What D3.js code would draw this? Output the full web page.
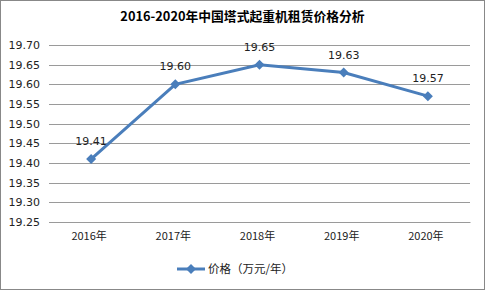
<!DOCTYPE html>
<html>
<head>
<meta charset="utf-8">
<script src="https://cdn.jsdelivr.net/npm/d3@7"></script>
<style>
  body { margin: 0; background: #fff; }
  text { font-family: "Noto Sans CJK SC", "DejaVu Sans", sans-serif; }
</style>
</head>
<body>
<div id="vis"></div>
<script>
const years = ['2016年', '2017年', '2018年', '2019年', '2020年']
const prices = [19.41, 19.60, 19.65, 19.63, 19.57]
const yTicks = [19.25, 19.30, 19.35, 19.40, 19.45, 19.50, 19.55, 19.60, 19.65, 19.70]

const W = 485, H = 290
const margin = { top: 45, right: 15, bottom: 68, left: 49 }
const width = W - margin.left - margin.right
const height = H - margin.top - margin.bottom
const lineColor = '#4a7ebb'

const root = d3.select('#vis').append('svg')
    .attr('width', W)
    .attr('height', H)

root.append('rect')
    .attr('x', 0.5).attr('y', 0.5)
    .attr('width', W - 1).attr('height', H - 1)
    .style('fill', '#fff')
    .style('stroke', '#888')

root.append('text')
    .attr('x', W / 2)
    .attr('y', 21)
    .style('text-anchor', 'middle')
    .style('font-size', '12.8px')
    .style('font-weight', 'bold')
    .text('2016-2020年中国塔式起重机租赁价格分析')

const svg = root.append('g')
    .attr('transform', `translate(${margin.left},${margin.top})`)

const xScale = d3.scaleBand().domain(years).range([0, width])
const yScale = d3.scaleLinear().domain([19.25, 19.70]).range([height, 0])

// grid
svg.append('g')
    .selectAll('line')
    .data(yTicks)
    .join('line')
    .attr('x1', 0).attr('x2', width)
    .attr('y1', d => Math.round(yScale(d)) + 0.5)
    .attr('y2', d => Math.round(yScale(d)) + 0.5)
    .style('stroke', '#9a9a9a')
    .style('stroke-width', 1)

const yAxis = d3.axisLeft(yScale).tickValues(yTicks).tickFormat(d3.format('.2f')).tickSize(0).tickPadding(9)
svg.append('g')
    .call(yAxis)
    .call(g => g.select('.domain').remove())
    .selectAll('text')
    .style('font-size', '11px')
    .style('font-family', '"DejaVu Sans", sans-serif')
    .style('fill', '#222')

const xAxis = d3.axisBottom(xScale).tickSize(0).tickPadding(10)
svg.append('g')
    .attr('transform', `translate(0,${height})`)
    .call(xAxis)
    .call(g => g.select('.domain').style('stroke', '#9a9a9a'))
    .selectAll('text')
    .attr('dx', -2)
    .style('font-size', '11px')
    .style('fill', '#222')

const cx = d => xScale(d) + xScale.bandwidth() / 2

const line = d3.line()
    .x((d, i) => cx(years[i]))
    .y(d => yScale(d))

svg.append('path')
    .datum(prices)
    .attr('d', line)
    .style('fill', 'none')
    .style('stroke', lineColor)
    .style('stroke-width', 3)

svg.selectAll('.pt')
    .data(prices)
    .join('path')
    .attr('class', 'pt')
    .attr('d', 'M0,-5L5,0L0,5L-5,0Z')
    .attr('transform', (d, i) => `translate(${cx(years[i])},${yScale(d)})`)
    .style('fill', lineColor)

svg.selectAll('.lbl')
    .data(prices)
    .join('text')
    .attr('class', 'lbl')
    .attr('x', (d, i) => cx(years[i]))
    .attr('y', d => yScale(d) - 14)
    .style('text-anchor', 'middle')
    .style('font-size', '11px')
    .style('font-family', '"DejaVu Sans", sans-serif')
    .style('fill', '#222')
    .text(d => d3.format('.2f')(d))

// legend
const lg = root.append('g').attr('transform', 'translate(177,269)')
lg.append('line')
    .attr('x1', 0).attr('x2', 28)
    .style('stroke', lineColor)
    .style('stroke-width', 3)
lg.append('path')
    .attr('d', 'M0,-5L5,0L0,5L-5,0Z')
    .attr('transform', 'translate(14,0)')
    .style('fill', lineColor)
lg.append('text')
    .attr('x', 31)
    .attr('y', 4)
    .style('font-size', '11.5px')
    .style('fill', '#222')
    .text('价格（万元/年）')
</script>
</body>
</html>
